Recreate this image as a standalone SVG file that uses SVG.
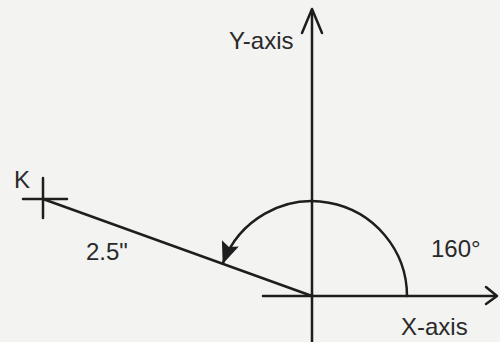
<svg xmlns="http://www.w3.org/2000/svg" width="500" height="342" viewBox="0 0 500 342">
  <defs>
    <style>
      .ln { stroke: #1e1e1e; stroke-width: 2.5; fill: none; stroke-linecap: round; stroke-linejoin: round; }
      .lbl { font-family: "Liberation Sans", Arial, sans-serif; font-size: 24px; fill: #2a2a2a; }
    </style>
    <marker id="solid" viewBox="0 0 22 18" refX="21" refY="9" markerWidth="22" markerHeight="18" markerUnits="userSpaceOnUse" orient="auto">
      <path d="M0,0 L22,9 L0,18 L4,9 Z" fill="#1e1e1e"/>
    </marker>
  </defs>
  <rect width="500" height="342" fill="#f3f3f1"/>
  <g id="axes">
    <path class="ln" d="M312,10 L312,342"/>
    <path class="ln" d="M302,33 L312,9 L322,33"/>
    <path class="ln" d="M263,296 L496,296"/>
    <path class="ln" d="M486,287 L497,296 L486,304"/>
  </g>
  <g id="vector">
    <path class="ln" d="M312,296 L43,199"/>
    <path class="ln" d="M23,199 L67,199 M43,178 L43,218"/>
  </g>
  <g id="angle">
    <path class="ln" d="M407,296 A95,95 0 0 0 223,263" marker-end="url(#solid)"/>
  </g>
  <g id="labels">
    <text class="lbl" x="14" y="188">K</text>
    <text class="lbl" x="229" y="49">Y-axis</text>
    <text class="lbl" x="86" y="260">2.5"</text>
    <text class="lbl" x="431" y="257">160°</text>
    <text class="lbl" x="401" y="335">X-axis</text>
  </g>
</svg>
